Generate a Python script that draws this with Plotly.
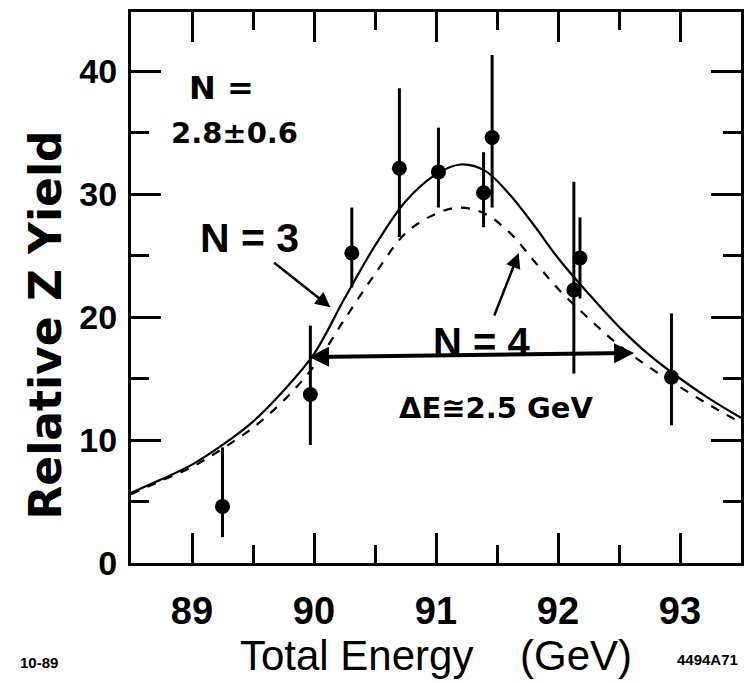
import plotly.graph_objects as go

# ---- data ----
energy = [89.25, 89.97, 90.31, 90.70, 91.02, 91.39, 91.46, 92.13, 92.18, 92.93]
yield_ = [4.6, 13.7, 25.2, 32.1, 31.8, 30.1, 34.6, 22.2, 24.8, 15.1]
err_up = [4.8, 5.6, 3.7, 6.5, 3.6, 3.3, 6.7, 8.8, 3.3, 5.2]
err_dn = [2.5, 4.1, 2.8, 5.6, 2.9, 2.8, 5.7, 6.8, 3.3, 3.9]

curve_e = [88.50, 88.75, 89.00, 89.25, 89.50, 89.75, 90.00, 90.25, 90.50, 90.75,
           91.00, 91.20, 91.40, 91.60, 91.80, 92.00, 92.25, 92.50, 92.75, 93.00,
           93.25, 93.50]
n3_curve = [5.7, 6.8, 8.0, 9.6, 11.5, 14.0, 17.0, 21.5, 25.8, 29.4,
            31.6, 32.4, 31.9, 30.0, 27.5, 24.8, 21.9, 19.2, 16.9, 15.0,
            13.3, 11.8]
n4_curve = [5.6, 6.7, 7.8, 9.3, 11.0, 13.2, 16.0, 19.8, 23.5, 26.8,
            28.4, 28.9, 28.4, 26.9, 24.6, 22.3, 19.9, 17.7, 15.9, 14.3,
            12.8, 11.4]

x_ticks = [89, 90, 91, 92, 93]
y_ticks = [0, 10, 20, 30, 40]

FONT = "Liberation Sans"
WIDE = "DejaVu Sans"

fig = go.Figure()
fig.add_trace(go.Scatter(x=curve_e, y=n3_curve, mode="lines", line_shape="spline",
                         line=dict(color="black", width=2.2), name="N = 3",
                         showlegend=False))
fig.add_trace(go.Scatter(x=curve_e, y=n4_curve, mode="lines", line_shape="spline",
                         line=dict(color="black", width=2.2, dash="dash"), name="N = 4",
                         showlegend=False))
fig.add_trace(go.Scatter(x=energy, y=yield_, mode="markers",
                         marker=dict(color="black", size=15),
                         error_y=dict(type="data", symmetric=False, array=err_up,
                                      arrayminus=err_dn, color="black", thickness=3, width=0),
                         showlegend=False, name="data"))

annotations = [
    dict(x=89.245, y=38.6, text="<b>N =</b>", showarrow=False,
         font=dict(size=32, family=WIDE, color="black")),
    dict(x=89.35, y=35.0, text="<b>2.8±0.6</b>", showarrow=False,
         font=dict(size=29, family=WIDE, color="black")),
    dict(x=89.47, y=26.4, text="<b>N = 3</b>", showarrow=False,
         font=dict(size=41, family=FONT, color="black")),
    dict(x=91.375, y=18.0, text="<b>N = 4</b>", showarrow=False,
         font=dict(size=40, family=FONT, color="black")),
    dict(x=91.49, y=12.6, text="<b>ΔE≅2.5 GeV</b>", showarrow=False,
         font=dict(size=29, family=WIDE, color="black")),
    # arrows
    dict(x=90.135, y=20.8, ax=89.661, ay=24.5, axref="x", ayref="y", text="",
         showarrow=True, arrowhead=2, arrowsize=1.2, arrowwidth=2.5, arrowcolor="black"),
    dict(x=91.678, y=25.2, ax=91.473, ay=20.0, axref="x", ayref="y", text="",
         showarrow=True, arrowhead=2, arrowsize=1.2, arrowwidth=2.5, arrowcolor="black"),
    dict(x=92.624, y=17.07, ax=89.947, ay=16.75, axref="x", ayref="y", text="",
         showarrow=True, arrowhead=2, startarrowhead=2, arrowside="end+start",
         arrowsize=1.0, startarrowsize=1.0, arrowwidth=4, arrowcolor="black"),
    # y axis title (placed slightly below the plot centre, as in the original)
    dict(xref="paper", yref="paper", x=-0.140, y=0.432, text="<b>Relative Z Yield</b>",
         textangle=-90, showarrow=False, xanchor="center", yanchor="middle",
         font=dict(size=44, family=WIDE, color="black")),
    # corner labels
    dict(xref="paper", yref="paper", x=-0.186, y=-0.20, text="<b>10-89</b>",
         showarrow=False, xanchor="left",
         font=dict(size=15, family=FONT, color="black")),
    dict(xref="paper", yref="paper", x=0.999, y=-0.195, text="<b>4494A71</b>",
         showarrow=False, xanchor="right",
         font=dict(size=15, family=FONT, color="black")),
]

axis_common = dict(
    showline=True, linecolor="black", linewidth=3, mirror="allticks",
    ticks="inside", tickcolor="black", tickwidth=3, ticklen=30,
    showgrid=False, zeroline=False,
)

fig.update_layout(
    width=753, height=683,
    margin=dict(l=131, r=9, t=12, b=120),
    paper_bgcolor="white", plot_bgcolor="white",
    annotations=annotations,
    xaxis=dict(range=[88.5, 93.5], tickvals=x_ticks, ticktext=[str(v) for v in x_ticks],
               ticklabelstandoff=12,
               tickfont=dict(family=FONT, size=38, color="black", weight="bold"),
               minor=dict(dtick=0.5, tick0=88.5, ticks="inside", ticklen=18,
                          tickwidth=3, tickcolor="black"),
               title=dict(text=" Total Energy    (GeV)", standoff=5,
                          font=dict(family=FONT, size=42, color="black")),
               **axis_common),
    yaxis=dict(range=[0, 44.8], tickvals=y_ticks, ticktext=[str(v) for v in y_ticks],
               ticklabelstandoff=4,
               tickfont=dict(family=FONT, size=34, color="black", weight="bold"),
               minor=dict(dtick=5, tick0=0, ticks="inside", ticklen=18,
                          tickwidth=3, tickcolor="black"),
               **axis_common),
)

fig.write_html("out.html")
